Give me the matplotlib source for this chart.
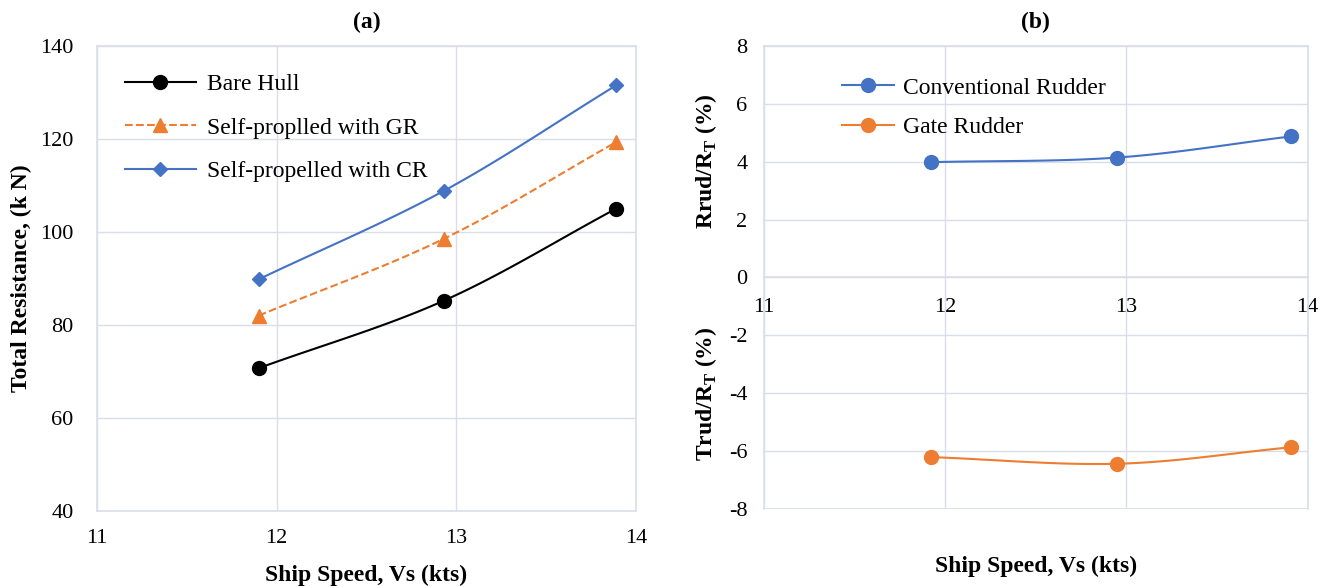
import matplotlib.pyplot as plt
import numpy as np

plt.rcParams['font.family'] = ['Liberation Serif', 'DejaVu Serif']
plt.rcParams['axes.unicode_minus'] = False
plt.rcParams['mathtext.fontset'] = 'custom'
plt.rcParams['mathtext.rm'] = 'Liberation Serif'
plt.rcParams['mathtext.bf'] = 'Liberation Serif:bold'

# data
speed = [11.9, 12.93, 13.89]
bare_hull = [70.7, 85.2, 105.0]
self_gr = [82.0, 98.5, 119.3]
self_cr = [89.8, 108.8, 131.5]

rud_speed = [11.92, 12.95, 13.91]
conv_rudder = [3.98, 4.14, 4.87]
gate_rudder = [-6.2, -6.43, -5.86]

BLUE = '#4472C4'
ORANGE = '#ED7D31'
GRID = '#D9DEEA'


def smooth(x, y, n=40):
    # catmull-rom curve through the points, like excel's smoothed line
    x = np.asarray(x, float)
    y = np.asarray(y, float)
    px = np.concatenate([[2 * x[0] - x[1]], x, [2 * x[-1] - x[-2]]])
    py = np.concatenate([[2 * y[0] - y[1]], y, [2 * y[-1] - y[-2]]])
    xs, ys = [], []
    t = np.linspace(0, 1, n)
    for i in range(1, len(px) - 2):
        for p, out in ((px, xs), (py, ys)):
            p0, p1, p2, p3 = p[i - 1], p[i], p[i + 1], p[i + 2]
            out.extend(0.5 * ((2 * p1) + (-p0 + p2) * t
                              + (2 * p0 - 5 * p1 + 4 * p2 - p3) * t ** 2
                              + (-p0 + 3 * p1 - 3 * p2 + p3) * t ** 3))
    return xs, ys


def style_axes(ax):
    for s in ax.spines.values():
        s.set_color(GRID)
        s.set_linewidth(1.2)
    ax.grid(True, color=GRID, linewidth=1)
    ax.set_axisbelow(True)
    ax.tick_params(length=0, labelsize=16)


fig = plt.figure(figsize=(13.29, 5.86), dpi=100)
ax1 = fig.add_axes([0.073, 0.128, 0.4056, 0.794])
ax2 = fig.add_axes([0.5749, 0.131, 0.409, 0.791])

# (a)
style_axes(ax1)
ax1.tick_params(axis='y', pad=17)
ax1.tick_params(axis='x', pad=13)
for vals, col, ls, mk, ms, lab in [
        (bare_hull, 'black', '-', 'o', 10, 'Bare Hull'),
        (self_gr, ORANGE, '--', '^', 10, 'Self-proplled with GR'),
        (self_cr, BLUE, '-', 'D', 7, 'Self-propelled with CR')]:
    sx, sy = smooth(speed, vals)
    ax1.plot(sx, sy, color=col, linestyle=ls, linewidth=1.5)
    ax1.plot(speed, vals, linestyle='none', marker=mk, markersize=ms, color=col)
    ax1.plot([], [], color=col, linestyle=ls, marker=mk, markersize=ms, label=lab)
ax1.set_xlim(11, 14)
ax1.set_ylim(40, 140)
ax1.set_xticks([11, 12, 13, 14])
ax1.set_yticks(range(40, 141, 20))
ax1.set_xlabel('Ship Speed, Vs (kts)', fontsize=17, fontweight='bold', labelpad=12)
ax1.set_ylabel('Total Resistance, (k N)', fontsize=17, fontweight='bold', labelpad=6)
ax1.set_title('(a)', fontsize=17, fontweight='bold', pad=13)
ax1.legend(loc='upper left', bbox_to_anchor=(0.012, 0.985), frameon=False,
           fontsize=17, handlelength=3.0, labelspacing=0.92, handletextpad=0.5)

# (b)
style_axes(ax2)
ax2.tick_params(axis='y', pad=12)
ax2.tick_params(axis='x', pad=15)
ax2.spines['bottom'].set_position(('data', 0))
ax2.axhline(-8, color=GRID, linewidth=1.2, zorder=0.5)
sx, sy = smooth(rud_speed, conv_rudder)
ax2.plot(sx, sy, color=BLUE, linewidth=1.5)
ax2.plot(rud_speed, conv_rudder, linestyle='none', marker='o', markersize=10, color=BLUE)
ax2.plot([], [], color=BLUE, marker='o', markersize=10, label='Conventional Rudder')
sx, sy = smooth(rud_speed, gate_rudder)
ax2.plot(sx, sy, color=ORANGE, linewidth=1.5)
ax2.plot(rud_speed, gate_rudder, linestyle='none', marker='o', markersize=10, color=ORANGE)
ax2.plot([], [], color=ORANGE, marker='o', markersize=10, label='Gate Rudder')
ax2.set_xlim(11, 14)
ax2.set_ylim(-8, 8)
ax2.set_xticks([11, 12, 13, 14])
ax2.set_yticks(range(-8, 9, 2))
ax2.set_xlabel('Ship Speed, Vs (kts)', fontsize=17, fontweight='bold')
ax2.xaxis.set_label_coords(0.5, -0.1)
ax2.set_title('(b)', fontsize=17, fontweight='bold', pad=13)
ax2.text(-0.107, 0.75, r'Rrud/R$_\mathbf{T}$ (%)', transform=ax2.transAxes,
         rotation=90, ha='center', va='center', fontsize=17, fontweight='bold')
ax2.text(-0.107, 0.25, r'Trud/R$_\mathbf{T}$ (%)', transform=ax2.transAxes,
         rotation=90, ha='center', va='center', fontsize=17, fontweight='bold')
ax2.legend(loc='upper left', bbox_to_anchor=(0.104, 0.978), frameon=False,
           fontsize=17, handlelength=2.2, labelspacing=0.75, handletextpad=0.4)

fig.savefig('out.png', dpi=100)
